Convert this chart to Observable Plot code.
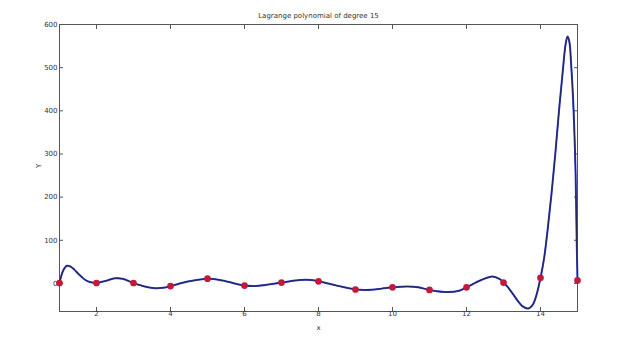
<!DOCTYPE html>
<html>
<head>
<meta charset="utf-8">
<script src="https://cdn.jsdelivr.net/npm/d3@7"></script>
<script src="https://cdn.jsdelivr.net/npm/@observablehq/plot@0.6"></script>
<style>
  html, body { margin: 0; padding: 0; background: #fff; }
  #chart svg { display: block; }
</style>
</head>
<body>
<div id="chart"></div>
<script>
const titleText = "Lagrange polynomial of degree 15";
const xLabel = "x";
const yLabel = "Y";

// interpolation nodes
const nodeX = [1, 2, 3, 4, 5, 6, 7, 8, 9, 10, 11, 12, 13, 14, 15];
const nodeY = [1, 1, 1, -6, 11, -5, 2, 5, -14, -9, -15, -9, 2, 13, 7];

// polynomial curve
const curveX = [1.0, 1.1, 1.2, 1.3, 1.4, 1.5, 1.6, 1.7, 1.8, 1.9, 2.0, 2.25, 2.5, 2.7, 3.0, 3.3, 3.6, 3.8, 4.0, 4.5, 5.0, 5.4, 6.0, 6.3, 6.6, 7.0, 7.5, 7.8, 8.0, 8.5, 9.0, 9.3, 9.7, 10.0, 10.4, 10.7, 11.0, 11.5, 11.8, 12.0, 12.4, 12.7, 12.9, 13.0, 13.1, 13.2, 13.3, 13.4, 13.5, 13.6, 13.65, 13.7, 13.8, 13.9, 14.0, 14.1, 14.2, 14.3, 14.4, 14.5, 14.6, 14.68, 14.73, 14.78, 14.83, 14.88, 14.92, 14.95, 14.98, 15.0];
const curveY = [1, 30, 41, 39, 32, 23, 15, 8, 4, 2, 1, 6, 12, 11, 1, -7, -11, -10, -6, 5, 11, 7, -5, -6, -3, 2, 8, 8, 5, -5, -14, -15, -12, -9, -7, -9, -15, -20, -17, -9, 8, 16, 10, 2, -7, -18, -30, -42, -52, -57, -58, -57, -48, -24, 13, 60, 130, 210, 300, 400, 490, 555, 572, 560, 505, 430, 340, 250, 90, 7];

const xTicks = [2, 4, 6, 8, 10, 12, 14];
const yTicks = [0, 100, 200, 300, 400, 500, 600];

const curve = curveX.map((x, i) => ({x, y: curveY[i]}));
const nodes = nodeX.map((x, i) => ({x, y: nodeY[i]}));

const chart = Plot.plot({
  width: 621,
  height: 353,
  marginLeft: 59,
  marginRight: 44,
  marginTop: 24,
  marginBottom: 42,
  style: {fontFamily: "DejaVu Sans, sans-serif", fontSize: "7px", color: "#333", background: "#fff"},
  x: {domain: [1, 15]},
  y: {domain: [-65, 600]},
  marks: [
    Plot.frame({stroke: "#555"}),
    Plot.axisX({anchor: "bottom", ticks: xTicks, tickSize: -4, tickPadding: 4, label: null, stroke: "#555"}),
    Plot.axisX({anchor: "top", ticks: xTicks, tickSize: -4, tickFormat: () => "", label: null, stroke: "#555"}),
    Plot.axisY({anchor: "left", ticks: yTicks, tickSize: -4, tickPadding: 6, label: null, stroke: "#555"}),
    Plot.axisY({anchor: "right", ticks: yTicks, tickSize: -4, tickFormat: () => "", label: null, stroke: "#555"}),
    Plot.line(curve, {x: "x", y: "y", stroke: "#2f3fd0", strokeWidth: 2, curve: "catmull-rom"}),
    Plot.line(curve, {x: "x", y: "y", stroke: "#26264f", strokeWidth: 1.1, curve: "catmull-rom"}),
    Plot.dot(nodes, {x: "x", y: "y", r: 2.6, fill: "#c41a3a", stroke: "#c41a3a"}),
    Plot.text([titleText], {frameAnchor: "top", dy: -11, fontSize: 7, fill: "#333"}),
    Plot.text([xLabel], {frameAnchor: "bottom", dy: 18, fontSize: 7, fill: "#333"}),
    Plot.text([yLabel], {frameAnchor: "left", dx: -21, rotate: -90, fontSize: 7, fill: "#333"})
  ]
});
document.getElementById("chart").appendChild(chart);
</script>
</body>
</html>
